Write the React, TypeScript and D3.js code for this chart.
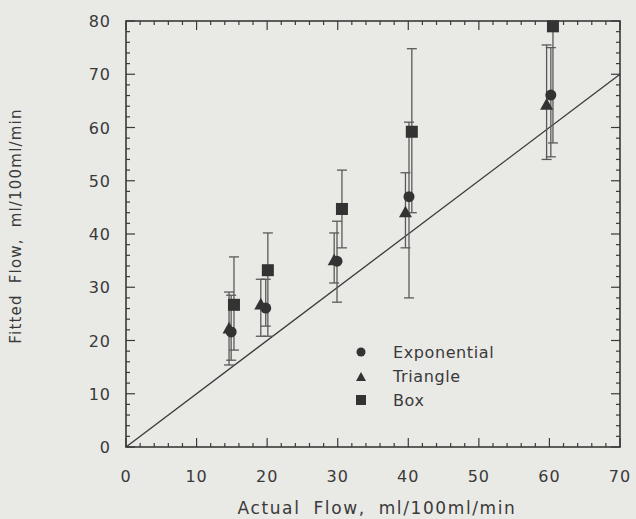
import React from "react";
import * as d3 from "d3";

// values
const expX = [14.9, 19.8, 29.9, 40.1, 60.2];
const expY = [21.6, 26.1, 34.9, 47.0, 66.1];
const expLo = [16.3, 22.7, 27.2, 28.0, 54.5];
const expHi = [28.5, 31.5, 42.4, 61.0, 75.0];

const triX = [14.6, 19.1, 29.5, 39.6, 59.6];
const triY = [22.3, 26.8, 35.1, 44.1, 64.3];
const triLo = [15.4, 20.8, 30.8, 37.4, 54.0];
const triHi = [29.1, 31.5, 40.2, 51.5, 75.5];

const boxX = [15.3, 20.1, 30.6, 40.5, 60.5];
const boxY = [26.7, 33.2, 44.7, 59.2, 79.0];
const boxLo = [18.2, 20.8, 37.4, 44.0, 57.1];
const boxHi = [35.7, 40.2, 52.0, 74.8, 79.8];

const xTicks = [0, 10, 20, 30, 40, 50, 60, 70];
const yTicks = [0, 10, 20, 30, 40, 50, 60, 70, 80];
const legendNames = ["Exponential", "Triangle", "Box"];

const W = 636;
const H = 519;
const margin = { top: 21, right: 16, bottom: 72, left: 126 };
const ink = "#3a3a3a";
const font = "'DejaVu Sans', Verdana, sans-serif";

export default function App() {
  const x = d3.scaleLinear().domain([0, 70]).range([margin.left, W - margin.right]);
  const y = d3.scaleLinear().domain([0, 80]).range([H - margin.bottom, margin.top]);
  const [x0, x1] = x.range();
  const [y0, y1] = y.range();

  const minorX = d3.range(0, 70.01, 2);
  const minorY = d3.range(0, 80.01, 2);

  const errBar = (xs: number[], lo: number[], hi: number[], key: string) =>
    xs.map((v, i) => (
      <g key={key + i} stroke="#5a5a5a" strokeWidth={1.3}>
        <line x1={x(v)} x2={x(v)} y1={y(lo[i])} y2={y(hi[i])} />
        <line x1={x(v) - 5} x2={x(v) + 5} y1={y(lo[i])} y2={y(lo[i])} />
        <line x1={x(v) - 5} x2={x(v) + 5} y1={y(hi[i])} y2={y(hi[i])} />
      </g>
    ));

  const tri = (cx: number, cy: number, s: number) =>
    `M${cx},${cy - s}L${cx + s},${cy + s * 0.8}L${cx - s},${cy + s * 0.8}Z`;

  return (
    <svg
      width={W}
      height={H}
      style={{ position: "absolute", left: 0, top: 0, background: "#e9e9e6" }}
      fontFamily={font}
    >
      <rect width={W} height={H} fill="#e9e9e6" />

      {/* frame */}
      <rect x={x0} y={y1} width={x1 - x0} height={y0 - y1} fill="none" stroke={ink} strokeWidth={1.6} />

      {/* ticks, inward on all four sides */}
      <g stroke={ink} strokeWidth={1.2}>
        {minorX.map((t) => {
          const len = t % 10 === 0 ? 9 : 4;
          return (
            <g key={"tx" + t}>
              <line x1={x(t)} x2={x(t)} y1={y0} y2={y0 - len} />
              <line x1={x(t)} x2={x(t)} y1={y1} y2={y1 + len} />
            </g>
          );
        })}
        {minorY.map((t) => {
          const len = t % 10 === 0 ? 9 : 4;
          return (
            <g key={"ty" + t}>
              <line x1={x0} x2={x0 + len} y1={y(t)} y2={y(t)} />
              <line x1={x1} x2={x1 - len} y1={y(t)} y2={y(t)} />
            </g>
          );
        })}
      </g>

      {/* tick labels */}
      <g fill={ink} fontSize={16} letterSpacing={1}>
        {xTicks.map((t) => (
          <text key={"lx" + t} x={x(t)} y={y0 + 35} textAnchor="middle">
            {t}
          </text>
        ))}
        {yTicks.map((t) => (
          <text key={"ly" + t} x={x0 - 15} y={y(t) + 6} textAnchor="end">
            {t}
          </text>
        ))}
      </g>

      {/* axis titles */}
      <text
        x={377}
        y={H - 5}
        textAnchor="middle"
        fontSize={17}
        fill={ink}
        letterSpacing={1.6}
        wordSpacing={6}
      >
        Actual Flow, ml/100ml/min
      </text>
      <text
        transform={`translate(21,226) rotate(-90)`}
        textAnchor="middle"
        fontSize={15}
        fill={ink}
        letterSpacing={1.2}
        wordSpacing={5}
      >
        Fitted Flow, ml/100ml/min
      </text>

      {/* identity line */}
      <line x1={x(0)} y1={y(0)} x2={x(70)} y2={y(70)} stroke={ink} strokeWidth={1.3} />

      {/* error bars */}
      {errBar(triX, triLo, triHi, "et")}
      {errBar(expX, expLo, expHi, "ee")}
      {errBar(boxX, boxLo, boxHi, "eb")}

      {/* markers */}
      <g fill="#333">
        {expX.map((v, i) => (
          <circle key={"ce" + i} cx={x(v)} cy={y(expY[i])} r={5.5} />
        ))}
        {triX.map((v, i) => (
          <path key={"ct" + i} d={tri(x(v), y(triY[i]), 6.5)} />
        ))}
        {boxX.map((v, i) => (
          <rect key={"cb" + i} x={x(v) - 6} y={y(boxY[i]) - 6} width={12} height={12} />
        ))}
      </g>

      {/* legend */}
      <g fontSize={16} fill={ink} letterSpacing={0.6}>
        {legendNames.map((n, i) => {
          const ly = 352 + i * 24;
          return (
            <g key={n}>
              {i === 0 && <circle cx={361} cy={ly} r={4.5} fill="#333" />}
              {i === 1 && <path d={tri(361, ly + 1, 5)} fill="#333" />}
              {i === 2 && <rect x={356} y={ly - 5} width={10} height={10} fill="#333" />}
              <text x={393} y={ly + 6}>
                {n}
              </text>
            </g>
          );
        })}
      </g>
    </svg>
  );
}
